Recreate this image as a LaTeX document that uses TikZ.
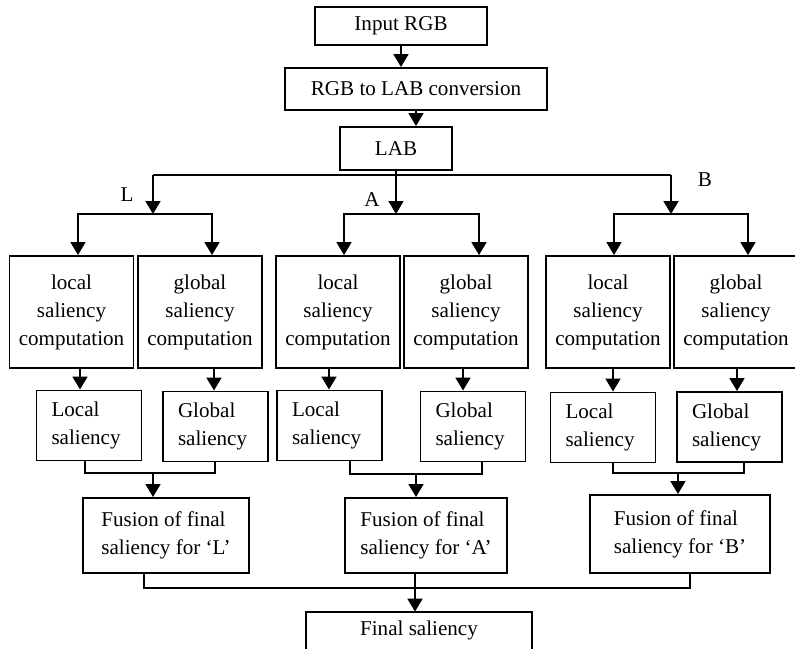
\documentclass[tikz,border=0pt]{standalone}
\usepackage{fontspec}
\setmainfont{Liberation Serif}
\usepackage{tikz}
\usetikzlibrary{arrows.meta}

\tikzset{
	box/.style={draw, line width=1.1pt, align=center, inner sep=2pt},
	cbox/.style={box, minimum width=2.48cm, minimum height=2.24cm},
	sbox/.style={box, align=left, text width=1.5cm, inner xsep=0.3cm, minimum height=1.4cm},
	fbox/.style={box, align=left, minimum height=1.5cm},
	arr/.style={line width=1pt, -{Triangle[width=0.3cm,length=0.26cm]}},
	ln/.style={line width=1pt},
}

\begin{document}
\begin{tikzpicture}[x=0.02cm,y=-0.02cm,font=\fontsize{12}{15.9}\selectfont]
	\useasboundingbox (0,0) rectangle (795,649);
	\node[box,minimum width=3.44cm,minimum height=0.76cm] (inp) at (401,26) {Input RGB};
	\node[box,minimum width=5.24cm,minimum height=0.84cm] (conv) at (416,89) {RGB to LAB conversion};
	\node[box,minimum width=2.24cm,minimum height=0.86cm] (lab) at (396,148.5) {LAB};
	\draw[arr] (inp.south) -- (inp.south |- conv.north);
	\draw[arr] (conv.south) -- (conv.south |- lab.north);

	\coordinate (sL) at (153,175);
	\coordinate (sB) at (671,175);
	\coordinate (kL) at (153,214);
	\coordinate (kA) at (396,214);
	\coordinate (kB) at (671,214);
	\draw[ln] (sL) -- (sB);
	\draw[arr] (sL) -- (kL);
	\draw[arr] (lab.south) -- (kA);
	\draw[arr] (sB) -- (kB);
	\node (labL) at (127,195) {L};
	\node (labA) at (372,200) {A};
	\node (labB) at (705,180) {B};

	\node[cbox] (lloc) at (71.5,312) {local\\saliency\\computation};
	\node[cbox] (lglo) at (200,312) {global\\saliency\\computation};
	\node[cbox] (aloc) at (338,312) {local\\saliency\\computation};
	\node[cbox] (aglo) at (466,312) {global\\saliency\\computation};
	\node[cbox] (bloc) at (608,312) {local\\saliency\\computation};
	\node[cbox] (bglo) at (736,312) {global\\saliency\\computation};
	\draw[arr] (kL) -| (lloc.north -| 78,0);
	\draw[arr] (kL) -| (lglo.north -| 212,0);
	\draw[arr] (kA) -| (aloc.north -| 344,0);
	\draw[arr] (kA) -| (aglo.north -| 479,0);
	\draw[arr] (kB) -| (bloc.north -| 614,0);
	\draw[arr] (kB) -| (bglo.north -| 748,0);

	\node[sbox] (lls) at (89,425.5) {Local\\saliency};
	\node[sbox] (lgs) at (215.5,426.5) {Global\\saliency};
	\node[sbox] (als) at (329.5,425.5) {Local\\saliency};
	\node[sbox] (ags) at (473,426.5) {Global\\saliency};
	\node[sbox] (bls) at (603,427.5) {Local\\saliency};
	\node[sbox] (bgs) at (729.5,427) {Global\\saliency};
	\draw[arr] (lloc.south -| 80,0) -- (lls.north -| 80,0);
	\draw[arr] (lglo.south -| 214,0) -- (lgs.north -| 214,0);
	\draw[arr] (aloc.south -| 329,0) -- (als.north -| 329,0);
	\draw[arr] (aglo.south -| 463,0) -- (ags.north -| 463,0);
	\draw[arr] (bloc.south -| 613,0) -- (bls.north -| 613,0);
	\draw[arr] (bglo.south -| 737,0) -- (bgs.north -| 737,0);

	\node[fbox,minimum width=3.32cm] (lfu) at (166,535.5) {Fusion of final\\saliency for `L'};
	\node[fbox,minimum width=3.24cm] (afu) at (426,535.5) {Fusion of final\\saliency for `A'};
	\node[fbox,minimum width=3.6cm,minimum height=1.56cm] (bfu) at (680,534) {Fusion of final\\saliency for `B'};
	\coordinate (mL) at (153,473);
	\coordinate (mA) at (416,474);
	\coordinate (mB) at (678,473);
	\draw[ln] (lls.south -| 85,0) |- (mL) -| (lgs.south -| 215,0);
	\draw[ln] (als.south -| 350,0) |- (mA) -| (ags.south -| 482,0);
	\draw[ln] (bls.south -| 613,0) |- (mB) -| (bgs.south -| 744,0);
	\draw[arr] (mL) -- (lfu.north -| mL);
	\draw[arr] (mA) -- (afu.north -| mA);
	\draw[arr] (mB) -- (bfu.north -| mB);

	\node[minimum width=4.52cm,minimum height=0.74cm] (fin) at (419,630.5) {Final saliency};
	\draw[line width=1.1pt] (fin.south west) |- (fin.north east) -- (fin.south east);
	\coordinate (mF) at (415,588);
	\draw[ln] (lfu.south -| 144,0) |- (mF) -| (bfu.south -| 690,0);
	\draw[arr] (afu.south -| mF) -- (fin.north -| mF);
\end{tikzpicture}
\end{document}
